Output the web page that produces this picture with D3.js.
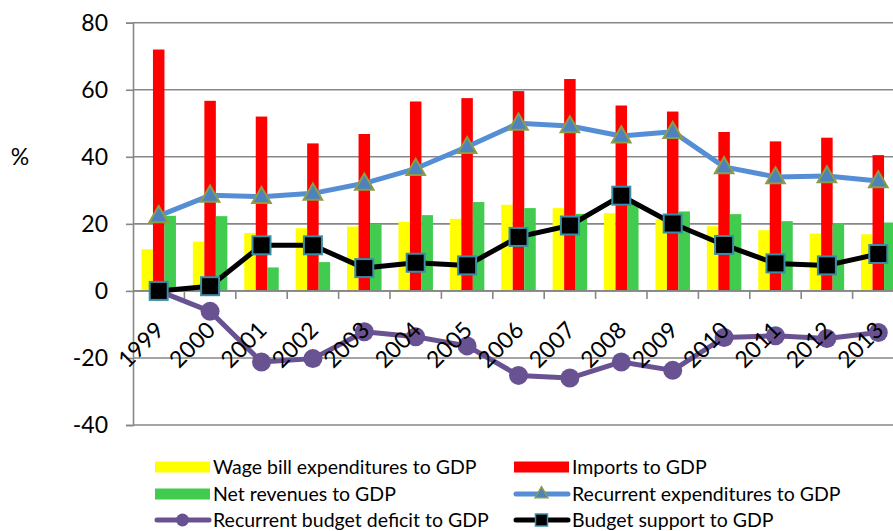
<!DOCTYPE html>
<html>
<head>
<meta charset="utf-8">
<script src="https://cdn.jsdelivr.net/npm/d3@7"></script>
<style>
  html, body { margin: 0; padding: 0; background: #ffffff; }
  svg { display: block; font-family: Lato, "Open Sans", sans-serif; }
</style>
</head>
<body>
<svg id="chart" width="893" height="531"></svg>
<script>
// Fiscal indicators, % of GDP
const years = ["1999","2000","2001","2002","2003","2004","2005","2006","2007","2008","2009","2010","2011","2012","2013"];
const wageBill = [12.4, 14.7, 17.3, 18.7, 19.2, 20.6, 21.5, 25.7, 24.7, 23.2, 21.4, 19.3, 18.1, 17.1, 16.9];
const imports = [72.0, 56.7, 52.0, 44.0, 46.8, 56.5, 57.5, 59.6, 63.2, 55.3, 53.5, 47.4, 44.6, 45.7, 40.5];
const netRevenues = [22.4, 22.3, 7.0, 8.6, 19.9, 22.6, 26.5, 24.7, 23.0, 26.4, 23.7, 22.9, 20.8, 20.2, 20.4];
const recurrentExp = [22.4, 28.5, 28.1, 29.1, 32.1, 36.5, 43.0, 50.0, 49.2, 46.2, 47.5, 37.0, 34.0, 34.3, 32.8];
const deficit = [0.0, -6.1, -21.2, -20.2, -12.2, -13.7, -16.4, -25.2, -26.0, -21.2, -23.7, -13.9, -13.4, -14.2, -12.4];
const budgetSupport = [0.0, 1.4, 13.6, 13.6, 6.8, 8.4, 7.6, 16.1, 19.5, 28.4, 20.1, 13.7, 8.2, 7.6, 11.0];
const yTicks = [-40, -20, 0, 20, 40, 60, 80];

const barSeries = [
  { name: "Wage bill expenditures to GDP", values: wageBill, color: "#FFFF00" },
  { name: "Imports to GDP", values: imports, color: "#FF0000" },
  { name: "Net revenues to GDP", values: netRevenues, color: "#41CC50" }
];
const lineSeries = {
  recurrent: { name: "Recurrent expenditures to GDP", values: recurrentExp },
  deficit: { name: "Recurrent budget deficit to GDP", values: deficit },
  support: { name: "Budget support to GDP", values: budgetSupport }
};

const svg = d3.select("#chart");
const plot = { left: 133, right: 904, top: 22.7, bottom: 425 };

const x = d3.scaleBand().domain(years).range([plot.left, plot.right]).paddingInner(0).paddingOuter(0);
const xInner = d3.scaleBand().domain(barSeries.map(s => s.name)).range([0, x.bandwidth()])
  .paddingInner(0).paddingOuter(0.735);
const y = d3.scaleLinear().domain([-40, 80]).range([plot.bottom, plot.top]);
const cx = yr => x(yr) + x.bandwidth() / 2;

const gridColor = "#878787";

// horizontal gridlines
svg.append("g")
  .selectAll("line").data(yTicks).join("line")
  .attr("x1", plot.left).attr("x2", plot.right)
  .attr("y1", d => y(d)).attr("y2", d => y(d))
  .attr("stroke", gridColor).attr("stroke-width", 1.6);

// y axis
const yAxis = svg.append("g")
  .attr("transform", `translate(${plot.left},0)`)
  .call(d3.axisLeft(y).tickValues(yTicks).tickSize(7).tickPadding(18).tickFormat(d => String(d)));
yAxis.select(".domain").attr("stroke", gridColor).attr("stroke-width", 1.6);
yAxis.selectAll(".tick line").attr("stroke", gridColor).attr("stroke-width", 1.6);
yAxis.selectAll(".tick text").attr("font-size", 23).attr("fill", "#000").attr("font-family", "Lato, 'Open Sans', sans-serif");

svg.append("text").attr("x", 20).attr("y", y(40)).attr("dy", "0.35em")
  .attr("text-anchor", "middle").attr("font-size", 23).text("%");

// bars
const barG = svg.append("g");
barSeries.forEach(s => {
  barG.append("g").selectAll("rect").data(years).join("rect")
    .attr("x", (d) => x(d) + xInner(s.name))
    .attr("width", xInner.bandwidth())
    .attr("y", (d, i) => y(Math.max(0, s.values[i])))
    .attr("height", (d, i) => Math.abs(y(s.values[i]) - y(0)))
    .attr("fill", s.color);
});

// x axis at zero with category boundary ticks
const xAxis = svg.append("g").attr("transform", `translate(0,${y(0)})`);
xAxis.append("line").attr("x1", plot.left).attr("x2", plot.right)
  .attr("stroke", gridColor).attr("stroke-width", 1.6);
xAxis.selectAll("line.tk").data(years.slice(1)).join("line").attr("class", "tk")
  .attr("x1", d => x(d)).attr("x2", d => x(d)).attr("y1", 0).attr("y2", 8)
  .attr("stroke", gridColor).attr("stroke-width", 1.6);

// lines
const lineGen = d3.line().x((d, i) => cx(years[i])).y(d => y(d));

// recurrent budget deficit
svg.append("path").datum(deficit).attr("d", lineGen)
  .attr("fill", "none").attr("stroke", "#685292").attr("stroke-width", 5).attr("stroke-linejoin", "round");
svg.append("g").selectAll("circle").data(deficit).join("circle")
  .attr("cx", (d, i) => cx(years[i])).attr("cy", d => y(d)).attr("r", 9.5).attr("fill", "#685292");

// recurrent expenditures
svg.append("path").datum(recurrentExp).attr("d", lineGen)
  .attr("fill", "none").attr("stroke", "#558ED5").attr("stroke-width", 5).attr("stroke-linejoin", "round");
const tri = d3.symbol().type(d3.symbolTriangle).size(150);
svg.append("g").selectAll("path").data(recurrentExp).join("path")
  .attr("d", tri)
  .attr("transform", (d, i) => `translate(${cx(years[i])},${y(d) + 1})`)
  .attr("fill", "#4F81BD").attr("stroke", "#8C9D48").attr("stroke-width", 2);

// budget support
svg.append("path").datum(budgetSupport).attr("d", lineGen)
  .attr("fill", "none").attr("stroke", "#000").attr("stroke-width", 5).attr("stroke-linejoin", "round");
const sq = 18;
svg.append("g").selectAll("rect").data(budgetSupport).join("rect")
  .attr("x", (d, i) => cx(years[i]) - sq / 2).attr("y", d => y(d) - sq / 2)
  .attr("width", sq).attr("height", sq)
  .attr("fill", "#000").attr("stroke", "#3B8DA6").attr("stroke-width", 2);

// rotated year labels
svg.append("g").selectAll("text").data(years).join("text")
  .attr("transform", d => `translate(${cx(d) + 1},${y(0) + 35}) rotate(-45)`)
  .attr("text-anchor", "end").attr("dy", "0.35em")
  .attr("font-size", 23).attr("fill", "#000").text(d => d);

// legend
const legend = svg.append("g").attr("font-size", 20);
const rows = [467, 494, 520];
const cols = [{ sx: 155, tx: 213 }, { sx: 514, tx: 572 }];
const swW = 55;
const items = [
  { s: barSeries[0], kind: "bar", col: 0, row: 0 },
  { s: barSeries[1], kind: "bar", col: 1, row: 0 },
  { s: barSeries[2], kind: "bar", col: 0, row: 1 },
  { s: lineSeries.recurrent, kind: "tri", col: 1, row: 1 },
  { s: lineSeries.deficit, kind: "circle", col: 0, row: 2 },
  { s: lineSeries.support, kind: "square", col: 1, row: 2 }
];
items.forEach(it => {
  const c = cols[it.col], ry = rows[it.row];
  const g = legend.append("g");
  if (it.kind === "bar") {
    g.append("rect").attr("x", c.sx).attr("y", ry - 5.5).attr("width", swW).attr("height", 11).attr("fill", it.s.color);
  } else {
    const color = it.kind === "tri" ? "#558ED5" : it.kind === "circle" ? "#685292" : "#000";
    const x0 = c.sx + 2, x1 = c.sx + swW - 1, mx = c.sx + swW / 2;
    g.append("line").attr("x1", x0).attr("x2", x1).attr("y1", ry).attr("y2", ry)
      .attr("stroke", color).attr("stroke-width", 5).attr("stroke-linecap", "round");
    if (it.kind === "tri") {
      g.append("path").attr("d", d3.symbol().type(d3.symbolTriangle).size(70))
        .attr("transform", `translate(${mx},${ry})`)
        .attr("fill", "#4F81BD").attr("stroke", "#8C9D48").attr("stroke-width", 1.5);
    } else if (it.kind === "circle") {
      g.append("circle").attr("cx", mx).attr("cy", ry).attr("r", 6.5).attr("fill", color);
    } else {
      g.append("rect").attr("x", mx - 6).attr("y", ry - 6).attr("width", 12).attr("height", 12)
        .attr("fill", "#000").attr("stroke", "#3B8DA6").attr("stroke-width", 1.5);
    }
  }
  g.append("text").attr("transform", `translate(${c.tx},${ry}) scale(0.975,1)`)
    .attr("dy", "0.35em").attr("fill", "#000").text(it.s.name);
});
</script>
</body>
</html>
